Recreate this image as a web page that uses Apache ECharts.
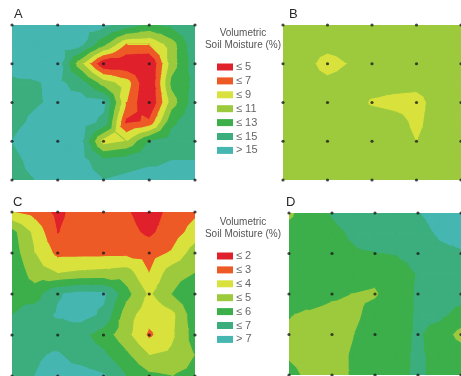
<!DOCTYPE html>
<html><head><meta charset="utf-8">
<script src="https://cdn.jsdelivr.net/npm/echarts/dist/echarts.min.js"></script>
<style>html,body{margin:0;padding:0;background:#fff}#c{width:461px;height:376px}</style>
</head><body><div id="c"></div>
<script>
// ---- data ----
const panelLabels = ['A', 'B', 'C', 'D'];
const sampleIdx = [0, 2, 4, 6, 8];          // grid indices of the sampling points (black dots)
const thresholdsAB = [5, 7, 9, 11, 13, 15];
const legendLabelsAB = ['≤ 5', '≤ 7', '≤ 9', '≤ 11', '≤ 13', '≤ 15', '> 15'];
const thresholdsCD = [2, 3, 4, 5, 6, 7];
const legendLabelsCD = ['≤ 2', '≤ 3', '≤ 4', '≤ 5', '≤ 6', '≤ 7', '> 7'];
const bandColors = ['#e0212b', '#ee5a26', '#d9e23c', '#9dca3d', '#3caf4b', '#3cae7e', '#46b6b1'];
const legendTitle = ['Volumetric', 'Soil Moisture (%)'];

// volumetric soil moisture (%), 9x9 estimate grid, rows top -> bottom
const moistureA = [
  [16, 16, 16, 16, 15.5, 14, 12.5, 13.5, 15],
  [16, 16, 16, 15.5, 11.5, 7, 7, 10, 14.5],
  [15.5, 16, 16, 9.5, 3, 3, 2.5, 10, 14],
  [14.7, 14.8, 15.5, 14, 10, 8, 2.5, 11.5, 13.5],
  [14.5, 14.8, 15.3, 16, 15.5, 7, 2.5, 10, 14],
  [14.5, 15.3, 16, 16, 14.5, 4.5, 5.3, 12.5, 14.5],
  [15, 16, 16, 15.5, 8, 9, 13, 14, 14.5],
  [14.5, 15.5, 16, 15.8, 13.5, 14, 14.5, 15, 15],
  [14.5, 15, 16, 16, 15, 15.5, 16, 15.5, 15]
];
const moistureB = [
  [10, 10, 10, 10, 10, 10, 10, 10, 10],
  [10, 10, 9.8, 10, 10, 10, 10, 10, 10],
  [10, 9.8, 8, 9.1, 10, 10, 10, 10, 10],
  [10, 10, 9.6, 10, 10, 9.8, 9.6, 10, 10],
  [10, 10, 10, 10.2, 8.7, 8.3, 8.2, 10, 10],
  [10, 10, 10, 10, 10.2, 9.8, 8.5, 10, 10],
  [10, 10, 10, 10, 10, 10, 8.95, 10, 10],
  [10, 10, 10, 10, 10, 10, 10, 10, 10],
  [10, 10, 10, 10, 10, 10, 10, 10, 10]
];
const moistureC = [
  [3.0, 2.6, 1.7, 2.5, 2.6, 2.1, 1.5, 2.3, 2.8],
  [5.3, 3.7, 1.95, 2.6, 2.7, 2.3, 1.8, 2.5, 3.4],
  [5.5, 4.0, 2.7, 2.7, 2.7, 2.7, 2.6, 3.1, 4.5],
  [5.8, 4.5, 4.0, 4.2, 4.3, 4.5, 3.0, 4.6, 5.0],
  [5.8, 5.5, 6.9, 7.3, 7.2, 5.3, 3.8, 5.0, 5.8],
  [6.0, 6.5, 7.1, 7.4, 6.8, 4.4, 3.4, 3.7, 5.6],
  [6.6, 6.8, 6.5, 6.3, 5.5, 4.3, 2.8, 3.8, 5.4],
  [6.7, 6.9, 7.1, 6.6, 6.2, 5.2, 4.0, 4.2, 5.0],
  [6.8, 7.0, 7.3, 7.4, 7.1, 6.0, 5.2, 5.0, 5.3]
];
const moistureD = [
  [4.8, 5.5, 6.05, 6.4, 6.6, 6.7, 6.95, 7.3, 7.4],
  [5.3, 5.6, 5.8, 6.1, 6.4, 6.5, 6.7, 7.1, 7.3],
  [5.5, 5.7, 5.8, 5.9, 5.97, 6.03, 6.3, 6.8, 6.9],
  [5.4, 5.5, 5.5, 5.3, 5.2, 5.6, 6.05, 6.5, 6.6],
  [5.2, 5.3, 5.1, 4.98, 4.9, 5.5, 6.1, 6.4, 6.3],
  [5.03, 4.9, 4.8, 4.8, 5.3, 5.6, 6.1, 6.2, 5.7],
  [4.9, 4.7, 4.75, 4.98, 5.4, 5.7, 6.1, 5.6, 4.6],
  [4.9, 4.7, 4.8, 5.05, 5.5, 5.8, 6.1, 5.8, 5.5],
  [5.2, 4.8, 4.8, 5.05, 5.5, 5.8, 6.1, 5.8, 5.6]
];

// ---- layout ----
const panels = [
  { values: moistureA, thr: thresholdsAB, box: { left: 12, top: 25, width: 183, height: 155 }, lab: [14, 8] },
  { values: moistureB, thr: thresholdsAB, box: { left: 283, top: 25, width: 185, height: 155 }, lab: [289, 8] },
  { values: moistureC, thr: thresholdsCD, box: { left: 12, top: 212, width: 183, height: 164 }, lab: [13, 196] },
  { values: moistureD, thr: thresholdsCD, box: { left: 289, top: 213, width: 179, height: 162 }, lab: [286, 196] }
];

// ---- filled contour bands (linear interpolation on triangles) ----
function clip(poly, level, keepAbove) {
  const out = [];
  for (let i = 0; i < poly.length; i++) {
    const a = poly[i], b = poly[(i + 1) % poly.length];
    const ina = keepAbove ? a[2] >= level : a[2] <= level;
    const inb = keepAbove ? b[2] >= level : b[2] <= level;
    if (ina) out.push(a);
    if (ina !== inb) {
      const t = (level - a[2]) / (b[2] - a[2]);
      out.push([a[0] + t * (b[0] - a[0]), a[1] + t * (b[1] - a[1]), level]);
    }
  }
  return out;
}
function bands(values, thr) {
  const pieces = [];
  const R = values.length, C = values[0].length;
  for (let r = 0; r < R - 1; r++) {
    for (let c = 0; c < C - 1; c++) {
      const p00 = [c, r, values[r][c]], p10 = [c + 1, r, values[r][c + 1]];
      const p01 = [c, r + 1, values[r + 1][c]], p11 = [c + 1, r + 1, values[r + 1][c + 1]];
      const ctr = [c + 0.5, r + 0.5, (p00[2] + p10[2] + p01[2] + p11[2]) / 4];
      const tris = [[p00, p10, ctr], [p10, p11, ctr], [p11, p01, ctr], [p01, p00, ctr]];
      tris.forEach(tri => {
        for (let k = 0; k <= thr.length; k++) {
          let poly = tri;
          if (k > 0) poly = clip(poly, thr[k - 1], true);
          if (poly.length >= 3 && k < thr.length) poly = clip(poly, thr[k], false);
          if (poly.length >= 3) pieces.push({ band: k, pts: poly.map(p => [p[0], p[1]]) });
        }
      });
    }
  }
  return pieces;
}

const grids = [], xAxes = [], yAxes = [], series = [];
panels.forEach((pn, i) => {
  grids.push(Object.assign({ containLabel: false }, pn.box));
  const nC = pn.values[0].length - 1, nR = pn.values.length - 1;
  xAxes.push({ type: 'value', gridIndex: i, min: 0, max: nC, show: false });
  yAxes.push({ type: 'value', gridIndex: i, min: 0, max: nR, inverse: true, show: false });
  const pieces = bands(pn.values, pn.thr);
  series.push({
    type: 'custom', xAxisIndex: i, yAxisIndex: i, silent: true, clip: true,
    data: pieces.map(p => [p.pts[0][0], p.pts[0][1]]),
    encode: { x: 0, y: 1 },
    renderItem: (params, api) => {
      const p = pieces[params.dataIndex];
      const col = bandColors[p.band];
      return { type: 'polygon', shape: { points: p.pts.map(q => api.coord(q)) },
               style: { fill: col, stroke: col, lineWidth: 1.1, lineJoin: 'round' } };
    }
  });
  const dots = [];
  sampleIdx.forEach(y => sampleIdx.forEach(x => dots.push([x, y])));
  series.push({
    type: 'scatter', xAxisIndex: i, yAxisIndex: i, silent: true, clip: false, z: 5,
    symbolSize: 3.2, itemStyle: { color: '#1c1c1c' }, data: dots
  });
});

// ---- texts and legends ----
const graphic = [];
panels.forEach((pn, i) => {
  graphic.push({ type: 'text', x: pn.lab[0], y: pn.lab[1],
    style: { text: panelLabels[i], fill: '#2a2a2a', font: '13px "Liberation Sans", Arial, sans-serif' } });
});
function legend(top, labels) {
  graphic.push({ type: 'text', x: 243, y: top, style: { text: legendTitle[0], textAlign: 'center', textVerticalAlign: 'middle', fill: '#555', font: '10px "Liberation Sans", Arial, sans-serif' } });
  graphic.push({ type: 'text', x: 243, y: top + 12, style: { text: legendTitle[1], textAlign: 'center', textVerticalAlign: 'middle', fill: '#555', font: '10px "Liberation Sans", Arial, sans-serif' } });
  labels.forEach((lb, k) => {
    const y = top + 34 + k * 13.9;
    graphic.push({ type: 'rect', shape: { x: 217, y: y - 3.5, width: 16, height: 7 }, style: { fill: bandColors[k] } });
    graphic.push({ type: 'text', x: 236, y: y, style: { text: lb, textVerticalAlign: 'middle', fill: '#666', font: '11px "Liberation Sans", Arial, sans-serif' } });
  });
}
legend(33, legendLabelsAB);
legend(222, legendLabelsCD);

const chart = echarts.init(document.getElementById('c'), null, { renderer: 'canvas' });
chart.setOption({ animation: false, backgroundColor: '#fff', grid: grids, xAxis: xAxes, yAxis: yAxes, series: series, graphic: graphic });
</script></body></html>
